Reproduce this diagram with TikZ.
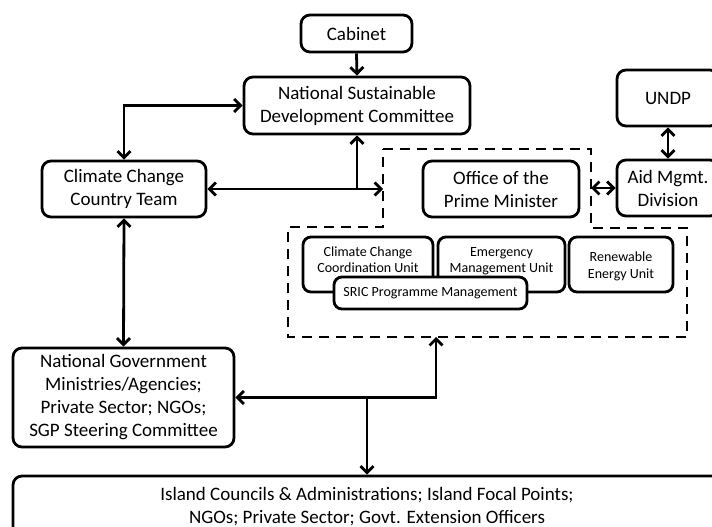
\documentclass[tikz,border=0pt]{standalone}
\usepackage{fontspec}
\setmainfont{Carlito}
\usetikzlibrary{arrows.meta}
\newcommand{\liftlines}[2]{\raisebox{#1}[\height][\depth]{\begin{tabular}{@{}c@{}}#2\end{tabular}}}
\begin{document}
\begin{tikzpicture}[x=1pt,y=-1pt,
  >={Straight Barb[length=6.5pt,width=13pt]},
  box/.style={draw, line width=2.8pt, rounded corners=9pt, align=center, inner sep=0pt,
    fill=white, font=\fontsize{19}{23}\selectfont},
  sbox/.style={box, rounded corners=8pt, font=\fontsize{14}{16.5}\selectfont},
  conn/.style={line width=2.8pt},
  region/.style={line width=2.8pt, dash pattern=on 10pt off 7pt}]
\useasboundingbox (0,0) rectangle (712,527);
\clip (0,0) rectangle (712,527);

% boxes
\node[box, minimum width=111pt, minimum height=37pt] (cab) at (356.5,33.5) {Cabinet};
\node[box, minimum width=226pt, minimum height=57pt] (nsdc) at (357,105.5) {National Sustainable\\Development Committee};
\node[box, minimum width=164pt, minimum height=56pt] (ccct) at (124,189) {Climate Change\\Country Team};
\node[box, minimum width=156pt, minimum height=56pt] (opm) at (501,189) {Office of the\\Prime Minister};
\node[box, minimum width=102pt, minimum height=56pt] (undp) at (668,98) {UNDP};
\node[box, minimum width=102pt, minimum height=56pt] (aid) at (668,188) {Aid Mgmt.\\Division};
\node[sbox, minimum width=130pt, minimum height=55pt] (cccu) at (368,264.5) {\liftlines{3.5pt}{Climate Change\\Coordination Unit}};
\node[sbox, minimum width=127pt, minimum height=55pt] (emu) at (501.5,264.5) {\liftlines{3.5pt}{Emergency\\Management Unit}};
\node[sbox, minimum width=104pt, minimum height=55pt] (reu) at (621,264.5) {\liftlines{-2pt}{Renewable\\Energy Unit}};
\node[sbox, minimum width=193pt, minimum height=32pt] (sric) at (430.5,293) {SRIC Programme Management};
\node[box, minimum width=221pt, minimum height=99pt] (ngm) at (123.5,397.5) {National Government\\Ministries/Agencies;\\Private Sector; NGOs;\\SGP Steering Committee};
\node[box, minimum width=708pt, minimum height=61pt] (isl) at (367,506.5) {Island Councils \& Administrations; Island Focal Points;\\NGOs; Private Sector; Govt. Extension Officers};

% dashed region (Office of the Prime Minister)
\coordinate (d1) at (383,149);
\coordinate (d2) at (591,149);
\coordinate (d3) at (591,228);
\coordinate (d4) at (687,228);
\coordinate (d5) at (687,337);
\coordinate (d6) at (288,337);
\coordinate (d7) at (288,227);
\coordinate (d8) at (383,227);
\draw[region] (d1) -- (d2) -- (d3) -- (d4) -- (d5) -- (d6) -- (d7) -- (d8) -- cycle;
\coordinate (dL) at (383,189);
\coordinate (dR) at (591,188);
\coordinate (dB) at (436,337);

% connectors
\draw[conn, ->] (cab.south) -- (nsdc.north);
\draw[conn, <->] (ccct.north) |- (nsdc.west);
\draw[conn, <->] (ccct.east) -- (dL);
\draw[conn, ->] (ccct.east -| nsdc.south) -- (nsdc.south);
\draw[conn, <->] (dR) -- (aid.west);
\draw[conn, <->] (undp.south) -- (aid.north);
\draw[conn, <->] (ccct.south) -- (ngm.north);
\draw[conn, <->] (ngm.east) -| (dB);
\draw[conn, ->] (ngm.east -| isl.north) -- (isl.north);
\end{tikzpicture}
\end{document}
